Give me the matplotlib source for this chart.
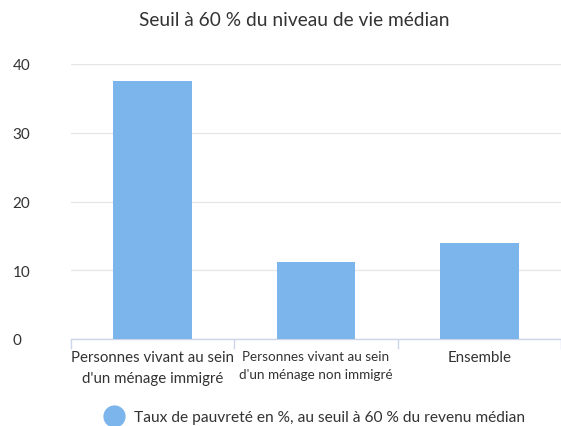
import matplotlib
matplotlib.use('Agg')
import matplotlib.pyplot as plt
from matplotlib.lines import Line2D

categories = ["Personnes vivant au sein\nd'un ménage immigré",
              "Personnes vivant au sein\nd'un ménage non immigré",
              "Ensemble"]
values = [37.5, 11.2, 14.0]
y_ticks = [0, 10, 20, 30, 40]
title = "Seuil à 60 % du niveau de vie médian"
series_name = "Taux de pauvreté en %, au seuil à 60 % du revenu médian"

bar_color = '#7cb5ec'
axis_color = '#ccd6eb'
grid_color = '#e6e6e6'
text_color = '#333333'

plt.rcParams['font.family'] = ['Lato', 'DejaVu Sans']

fig = plt.figure(figsize=(5.61, 4.27), dpi=100)
ax = fig.add_axes([71 / 561, 1 - 340 / 427, 490 / 561, 275 / 427])

x = list(range(len(categories)))
ax.bar(x, values, width=0.48, color=bar_color, zorder=3)

ax.set_xlim(-0.5, len(categories) - 0.5)
ax.set_ylim(0, 40)
ax.set_yticks(y_ticks)
ax.set_yticklabels([str(v) for v in y_ticks], fontsize=11, color=text_color)
for lab in ax.get_yticklabels():
    lab.set_horizontalalignment('left')
ax.tick_params(axis='y', length=0, pad=42)
ax.grid(axis='y', color=grid_color, linewidth=1, zorder=0)

ax.set_xticks(x)
ax.set_xticklabels(categories, fontsize=10.8, color=text_color, linespacing=1.6)
# Highcharts squeezes the long second label to fit its slot
ax.get_xticklabels()[1].set_fontsize(9.7)
ax.set_xticks([i - 0.5 for i in range(len(categories) + 1)], minor=True)
ax.tick_params(axis='x', which='major', length=0, pad=8)
ax.tick_params(axis='x', which='minor', length=7, color=axis_color, width=1)

for side in ['top', 'right', 'left']:
    ax.spines[side].set_visible(False)
ax.spines['bottom'].set_color(axis_color)
ax.spines['bottom'].set_linewidth(1)

fig.text(294 / 561, 1 - 21 / 427, title, ha='center', va='center',
         fontsize=13.8, color=text_color)

handle = Line2D([], [], marker='o', linestyle='none', markersize=15,
                markerfacecolor=bar_color, markeredgecolor=bar_color)
fig.legend([handle], [series_name], loc='center',
           bbox_to_anchor=(312 / 561, 1 - 418 / 427), frameon=False,
           fontsize=11.2, handletextpad=0.3, labelcolor=text_color)

fig.savefig('out.png', dpi=100)
